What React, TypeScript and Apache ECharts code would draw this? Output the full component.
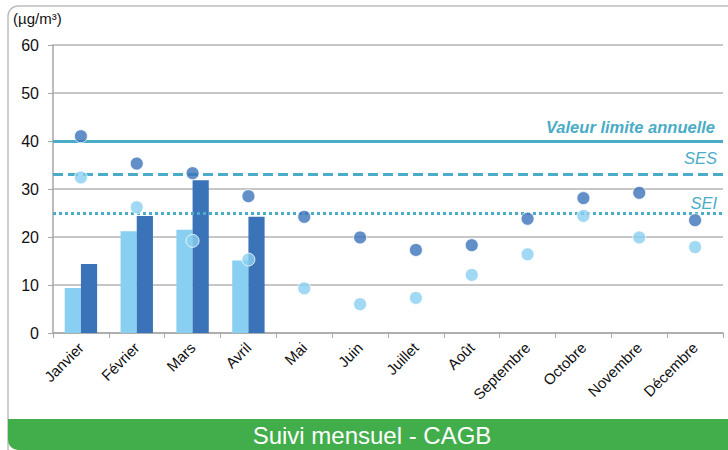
import React, { useEffect, useRef } from "react";
import * as echarts from "echarts";

const months = ["Janvier", "Février", "Mars", "Avril", "Mai", "Juin", "Juillet", "Août", "Septembre", "Octobre", "Novembre", "Décembre"];
const barLight = [9.4, 21.2, 21.5, 15.1, null, null, null, null, null, null, null, null];
const barDark = [14.4, 24.4, 31.8, 24.2, null, null, null, null, null, null, null, null];
const dotDark = [41, 35.3, 33.3, 28.5, 24.2, 19.9, 17.3, 18.3, 23.8, 28.1, 29.2, 23.5];
const dotLight = [32.4, 26.2, 19.2, 15.3, 9.3, 6.0, 7.3, 12.1, 16.4, 24.4, 19.9, 17.9];
const limitValue = 40;
const sesValue = 33;
const seiValue = 25;
const unitLabel = "(µg/m³)";
const footerTitle = "Suivi mensuel - CAGB";

const LIGHT = "#89CFF1";
const DARK = "#3B73B9";
const TEAL = "#4AACC6";
const FONT = "Liberation Sans, Arial, sans-serif";

export default function App() {
  const ref = useRef<HTMLDivElement>(null);
  useEffect(() => {
    if (!ref.current) return;
    const chart = echarts.init(ref.current, undefined, { renderer: "svg" });
    chart.setOption({
      animation: false,
      textStyle: { fontFamily: FONT },
      title: {
        text: unitLabel,
        left: 8,
        top: 6,
        textStyle: { fontSize: 15, fontWeight: "normal", color: "#111", fontFamily: FONT },
      },
      grid: { left: 53, right: 5, top: 45, bottom: 117 },
      xAxis: {
        type: "category",
        data: months,
        axisLine: { lineStyle: { color: "#A6A6A6", width: 1.5 } },
        axisTick: { show: true, length: 5, lineStyle: { color: "#A6A6A6" } },
        axisLabel: { rotate: 45, fontSize: 15, color: "#111", margin: 12, interval: 0, fontFamily: FONT },
      },
      yAxis: {
        type: "value",
        min: 0,
        max: 60,
        interval: 10,
        axisLine: { show: true, lineStyle: { color: "#A6A6A6", width: 1.5 } },
        axisTick: { show: true, length: 5, lineStyle: { color: "#A6A6A6" } },
        axisLabel: { fontSize: 16, color: "#111", margin: 14, fontFamily: FONT },
        splitLine: { lineStyle: { color: "#B5B5B5", width: 1.5 } },
      },
      series: [
        {
          type: "bar",
          data: barLight,
          barGap: "0%",
          barCategoryGap: "42%",
          itemStyle: { color: LIGHT },
          z: 2,
        },
        {
          type: "bar",
          data: barDark,
          barGap: "0%",
          barCategoryGap: "42%",
          itemStyle: { color: DARK },
          z: 2,
        },
        {
          type: "scatter",
          data: dotDark,
          symbolSize: 13,
          itemStyle: { color: DARK, borderColor: "#fff", borderWidth: 1 },
          z: 4,
          markLine: {
            silent: true,
            symbol: "none",
            z: 3,
            data: [
              {
                yAxis: limitValue,
                lineStyle: { color: TEAL, width: 3, type: "solid" },
                label: {
                  show: true,
                  formatter: "Valeur limite annuelle",
                  position: "insideEndTop",
                  distance: [8, 6],
                  color: TEAL,
                  fontSize: 16.5,
                  fontStyle: "italic",
                  fontWeight: "bold",
                  fontFamily: FONT,
                },
              },
              {
                yAxis: sesValue,
                lineStyle: { color: TEAL, width: 3, type: [10, 5] },
                label: {
                  show: true,
                  formatter: "SES",
                  position: "insideEndTop",
                  distance: [6, 8],
                  color: TEAL,
                  fontSize: 16.5,
                  fontStyle: "italic",
                  fontFamily: FONT,
                },
              },
              {
                yAxis: seiValue,
                lineStyle: { color: TEAL, width: 3, type: [3, 3] },
                label: {
                  show: true,
                  formatter: "SEI",
                  position: "insideEndTop",
                  distance: [6, 2],
                  color: TEAL,
                  fontSize: 16.5,
                  fontStyle: "italic",
                  fontFamily: FONT,
                },
              },
            ],
          },
        },
        {
          type: "scatter",
          data: dotLight,
          symbolSize: 13,
          itemStyle: { color: LIGHT, borderColor: "#fff", borderWidth: 1 },
          z: 4,
        },
      ],
      graphic: [
        {
          type: "rect",
          shape: { x: 8, y: 6, width: 740, height: 460, r: 10 },
          style: { fill: "none", stroke: "#BDBDBD", lineWidth: 1.5 },
          silent: true,
          z: -1,
        },
        {
          type: "rect",
          shape: { x: 8, y: 419, width: 740, height: 31, r: [0, 0, 0, 10] },
          style: { fill: "#42AD4B" },
          silent: true,
        },
        {
          type: "text",
          x: 372,
          y: 435,
          style: {
            text: footerTitle,
            fill: "#fff",
            fontSize: 24,
            fontFamily: FONT,
            align: "center",
            verticalAlign: "middle",
          },
          silent: true,
        },
      ],
    });
    return () => chart.dispose();
  }, []);
  return (
    <div
      ref={ref}
      style={{ position: "fixed", left: 0, top: 0, width: 728, height: 450, background: "#fff" }}
    />
  );
}
